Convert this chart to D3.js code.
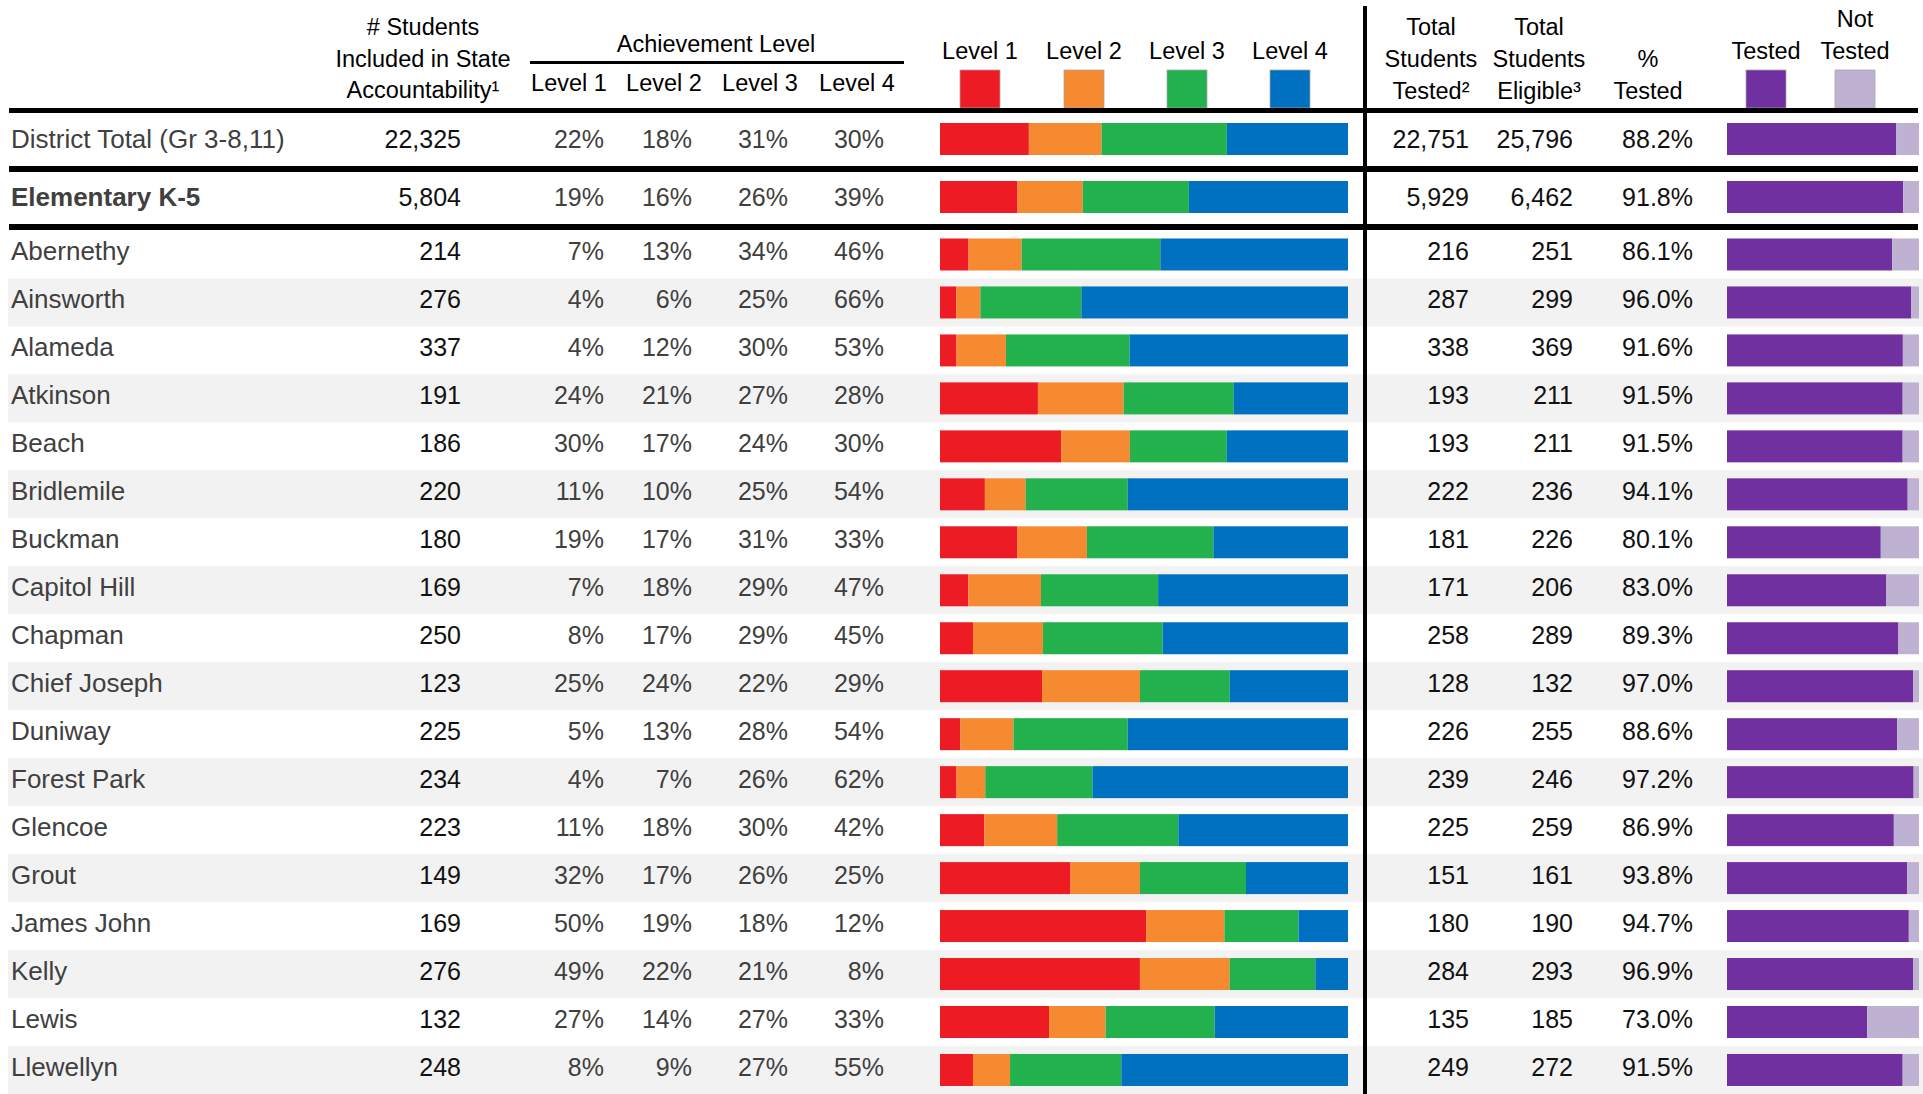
<!DOCTYPE html>
<html>
<head>
<meta charset="utf-8">
<script src="https://cdn.jsdelivr.net/npm/d3@7"></script>
<style>
  html, body { margin: 0; padding: 0; background: #fff; }
  svg { display: block; }
  text { font-family: "Liberation Sans", Arial, sans-serif; }
</style>
</head>
<body>
<svg id="chart"></svg>
<script>
// row labels (first two are the summary rows)
const rowNames = ["District Total (Gr 3-8,11)", "Elementary K-5", "Abernethy", "Ainsworth", "Alameda",
  "Atkinson", "Beach", "Bridlemile", "Buckman", "Capitol Hill", "Chapman", "Chief Joseph", "Duniway",
  "Forest Park", "Glencoe", "Grout", "James John", "Kelly", "Lewis", "Llewellyn"];
const included = [22325, 5804, 214, 276, 337, 191, 186, 220, 180, 169, 250, 123, 225, 234, 223, 149, 169, 276, 132, 248];
const level1 = [22, 19, 7, 4, 4, 24, 30, 11, 19, 7, 8, 25, 5, 4, 11, 32, 50, 49, 27, 8];
const level2 = [18, 16, 13, 6, 12, 21, 17, 10, 17, 18, 17, 24, 13, 7, 18, 17, 19, 22, 14, 9];
const level3 = [31, 26, 34, 25, 30, 27, 24, 25, 31, 29, 29, 22, 28, 26, 30, 26, 18, 21, 27, 27];
const level4 = [30, 39, 46, 66, 53, 28, 30, 54, 33, 47, 45, 29, 54, 62, 42, 25, 12, 8, 33, 55];
const tested = [22751, 5929, 216, 287, 338, 193, 193, 222, 181, 171, 258, 128, 226, 239, 225, 151, 180, 284, 135, 249];
const eligible = [25796, 6462, 251, 299, 369, 211, 211, 236, 226, 206, 289, 132, 255, 246, 259, 161, 190, 293, 185, 272];
const pctTested = [88.2, 91.8, 86.1, 96.0, 91.6, 91.5, 91.5, 94.1, 80.1, 83.0, 89.3, 97.0, 88.6, 97.2, 86.9, 93.8, 94.7, 96.9, 73.0, 91.5];

const levelKeys = ["l1", "l2", "l3", "l4"];
const levelLabels = ["Level 1", "Level 2", "Level 3", "Level 4"];
const levelColors = ["#ED1C24", "#F58A31", "#22B14C", "#0070C0"];
const testKeys = ["tested", "not"];
const testColors = ["#7030A0", "#BFB1D1"];

const W = 1923, H = 1094;
const svg = d3.select("#chart").attr("width", W).attr("height", H);

const rows = rowNames.map((name, i) => ({
  name, i,
  included: included[i],
  l1: level1[i], l2: level2[i], l3: level3[i], l4: level4[i],
  tested: tested[i], eligible: eligible[i], pct: pctTested[i]
}));
const summary = rows.slice(0, 2);
const schools = rows.slice(2);

// vertical positions
const ySum = d3.scalePoint().domain(summary.map(d => d.name)).range([139, 197]);
const yRow = d3.scaleBand().domain(schools.map(d => d.name)).range([230.5, 230.5 + schools.length * 47.97]);
const rowCenter = d => d.i < 2 ? ySum(d.name) : yRow(d.name) + yRow.bandwidth() / 2;
const barH = 32;

// horizontal scales
const xLevel = d3.scaleLinear().domain([0, 1]).range([940, 1348]);
const xTest = d3.scaleLinear().domain([0, 100]).range([1727, 1919]);

// column anchors
const col = { name: 11, included: 461, l1: 604, l2: 692, l3: 788, l4: 884, tested: 1469, eligible: 1573, pct: 1693 };
const levelHeadX = [569, 664, 760, 857];

// row stripes
svg.append("g").selectAll("rect")
  .data(schools.filter((d, k) => k % 2 === 1))
  .join("rect")
  .attr("x", 8).attr("width", W - 8)
  .attr("y", d => yRow(d.name)).attr("height", yRow.bandwidth())
  .attr("fill", "#f2f2f2");

// stacked achievement bars
const stacked = d3.stack().keys(levelKeys).offset(d3.stackOffsetExpand)(rows);
svg.append("g").selectAll("g")
  .data(stacked)
  .join("g")
  .attr("fill", (s, k) => levelColors[k])
  .selectAll("rect")
  .data(s => s)
  .join("rect")
  .attr("x", d => xLevel(d[0]))
  .attr("width", d => xLevel(d[1]) - xLevel(d[0]))
  .attr("y", d => rowCenter(d.data) - barH / 2)
  .attr("height", barH);

// tested / not tested bars
const testStack = d3.stack().keys(testKeys)
  .value((d, key) => key === "tested" ? d.pct : 100 - d.pct)(rows);
svg.append("g").selectAll("g")
  .data(testStack)
  .join("g")
  .attr("fill", (s, k) => testColors[k])
  .selectAll("rect")
  .data(s => s)
  .join("rect")
  .attr("x", d => xTest(d[0]))
  .attr("width", d => xTest(d[1]) - xTest(d[0]))
  .attr("y", d => rowCenter(d.data) - barH / 2)
  .attr("height", barH);

// row text
const fmtInt = d3.format(",");
const fmtPct = d => d + "%";
const fmtPct1 = d => d3.format(".1f")(d) + "%";
const fs = 25;
const cells = [
  { key: "name", x: col.name, anchor: "start", color: "#404040", f: d => d.name },
  { key: "included", x: col.included, anchor: "end", color: "#111", f: d => fmtInt(d.included) },
  { key: "l1", x: col.l1, anchor: "end", color: "#404040", f: d => fmtPct(d.l1) },
  { key: "l2", x: col.l2, anchor: "end", color: "#404040", f: d => fmtPct(d.l2) },
  { key: "l3", x: col.l3, anchor: "end", color: "#404040", f: d => fmtPct(d.l3) },
  { key: "l4", x: col.l4, anchor: "end", color: "#404040", f: d => fmtPct(d.l4) },
  { key: "tested", x: col.tested, anchor: "end", color: "#111", f: d => fmtInt(d.tested) },
  { key: "eligible", x: col.eligible, anchor: "end", color: "#111", f: d => fmtInt(d.eligible) },
  { key: "pct", x: col.pct, anchor: "end", color: "#111", f: d => fmtPct1(d.pct) }
];
const rowG = svg.append("g").selectAll("g").data(rows).join("g")
  .attr("transform", d => `translate(0, ${rowCenter(d) + fs * 0.36 - (d.i < 2 ? 0 : 3)})`);
cells.forEach(c => {
  rowG.append("text")
    .attr("x", c.x)
    .attr("text-anchor", c.anchor)
    .attr("font-size", c.key === "name" ? 26 : fs)
    .attr("font-weight", d => (d.i === 1 && c.key === "name") ? "bold" : null)
    .attr("fill", c.color)
    .text(c.f);
});

// header text
const hfs = 23.5;
const header = svg.append("g").attr("font-size", hfs).attr("fill", "#000").attr("text-anchor", "middle");
const multi = (x, lines, baselines) => {
  lines.forEach((t, k) => header.append("text").attr("x", x).attr("y", baselines[k]).text(t));
};
multi(423, ["# Students", "Included in State", "Accountability¹"], [35, 67, 98]);
multi(716, ["Achievement Level"], [52]);
levelLabels.forEach((t, k) => header.append("text").attr("x", levelHeadX[k]).attr("y", 91).text(t));
multi(1431, ["Total", "Students", "Tested²"], [35, 67, 99]);
multi(1539, ["Total", "Students", "Eligible³"], [35, 67, 99]);
multi(1648, ["%", "Tested"], [67, 99]);

// legends
const swW = 40, swY = 70, swH = 38;
const levelSwX = [960, 1064, 1167, 1270];
levelLabels.forEach((t, k) => {
  header.append("text").attr("x", levelSwX[k] + swW / 2).attr("y", 59).text(t);
  svg.append("rect").attr("x", levelSwX[k]).attr("y", swY).attr("width", swW).attr("height", swH)
    .attr("fill", levelColors[k]).attr("stroke", "#a6a6a6").attr("stroke-width", 0.75);
});
const testSwX = [1746, 1835];
multi(testSwX[0] + swW / 2, ["Tested"], [59]);
multi(testSwX[1] + swW / 2, ["Not", "Tested"], [27, 59]);
testSwX.forEach((x, k) => {
  svg.append("rect").attr("x", x).attr("y", swY).attr("width", swW).attr("height", swH)
    .attr("fill", testColors[k]).attr("stroke", "#a6a6a6").attr("stroke-width", 0.75);
});

// rules
const rules = svg.append("g").attr("fill", "#000");
rules.append("rect").attr("x", 530).attr("y", 61).attr("width", 374).attr("height", 3);
[[108, 5], [166, 6], [224, 6]].forEach(([y, h]) => {
  rules.append("rect").attr("x", 9).attr("y", y).attr("width", 1909).attr("height", h);
});
rules.append("rect").attr("x", 1363).attr("y", 6).attr("width", 4).attr("height", H - 6);
</script>
</body>
</html>
